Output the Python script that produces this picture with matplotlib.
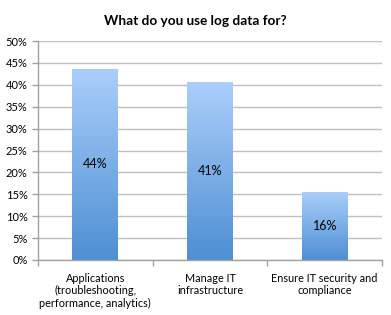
import matplotlib.pyplot as plt
import numpy as np
from matplotlib.colors import LinearSegmentedColormap

categories = ["Applications\n(troubleshooting,\nperformance, analytics)",
              "Manage IT\ninfrastructure",
              "Ensure IT security and\ncompliance"]
values = [43.7, 40.6, 15.6]
yticks = [0, 5, 10, 15, 20, 25, 30, 35, 40, 45, 50]

plt.rcParams['font.family'] = ['Lato', 'DejaVu Sans']

fig = plt.figure(figsize=(3.91, 3.15), dpi=100)
ax = fig.add_axes([38/391, 55/315, 344/391, 219/315])

grad = LinearSegmentedColormap.from_list("g", ["#4f8fd3", "#aacefb"])
x = np.arange(len(categories))
bars = ax.bar(x, values, width=0.4, color="none", zorder=2)
for b, v in zip(bars, values):
    x0, w = b.get_x(), b.get_width()
    im = ax.imshow(np.linspace(0, 1, 100).reshape(-1, 1), cmap=grad, origin="lower",
                   extent=[x0, x0 + w, 0, v], aspect="auto", zorder=2)
    im.set_clip_path(b)
    ax.text(x0 + w / 2, v / 2, "%d%%" % round(v),
            ha="center", va="center", fontsize=9, color="black", zorder=3)

ax.set_xlim(-0.5, 2.5)
ax.set_ylim(0, 50)
ax.set_yticks(yticks)
ax.set_yticklabels(["%d%%" % t for t in yticks], fontsize=8)
ax.yaxis.grid(True, color="#c0c0c0", linewidth=1)
ax.set_axisbelow(True)

ax.set_xticks([-0.5, 0.5, 1.5, 2.5])
ax.set_xticklabels([])
ax.set_xticks(x, minor=True)
ax.set_xticklabels(categories, minor=True, fontsize=7.8, linespacing=1.2)
ax.tick_params(axis="x", which="minor", length=0, pad=9)
ax.tick_params(axis="both", which="major", length=4, color="#a0a0a0", width=1)

for s in ["top", "right"]:
    ax.spines[s].set_visible(False)
for s in ["left", "bottom"]:
    ax.spines[s].set_color("#a0a0a0")
    ax.spines[s].set_linewidth(1)

fig.text(0.5, 1 - 21/315, "What do you use log data for?", ha="center", va="center",
         fontsize=9.8, fontweight="bold")

fig.savefig("out.png", dpi=100)
